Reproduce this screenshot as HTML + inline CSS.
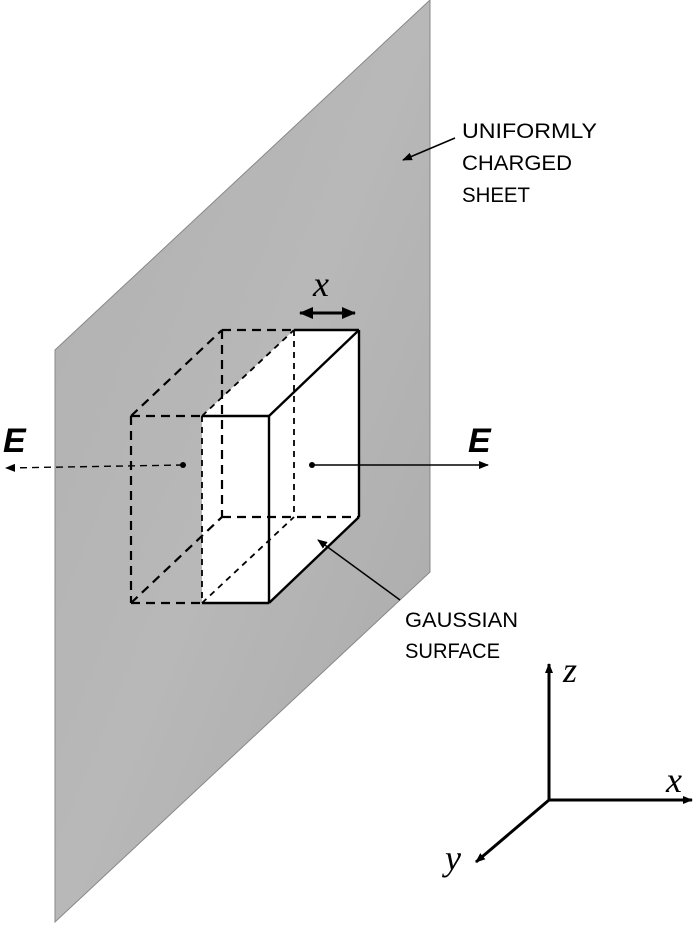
<!DOCTYPE html>
<html><head><meta charset="utf-8"><style>body{margin:0;background:#fff}svg{display:block}</style></head>
<body>
<svg width="700" height="928" viewBox="0 0 700 928" xmlns="http://www.w3.org/2000/svg">
<defs>
<marker id="ah" markerWidth="10" markerHeight="8" refX="9" refY="4" orient="auto" markerUnits="userSpaceOnUse"><path d="M0,0 L10,4 L0,8 z" fill="#000"/></marker>
<marker id="ah2" markerWidth="14" markerHeight="12" refX="13" refY="6" orient="auto" markerUnits="userSpaceOnUse"><path d="M0,0 L14,6 L0,12 z" fill="#000"/></marker>
<marker id="ahs" markerWidth="14" markerHeight="12" refX="1" refY="6" orient="auto" markerUnits="userSpaceOnUse"><path d="M14,0 L0,6 L14,12 z" fill="#000"/></marker>
<linearGradient id="g" x1="0" y1="0" x2="1" y2="1"><stop offset="0" stop-color="#b0b0b0"/><stop offset="0.5" stop-color="#b8b8b8"/><stop offset="1" stop-color="#a9a9a9"/></linearGradient>
</defs>
<polygon points="55,350 430,0 430,572 55,922" fill="url(#g)" stroke="#888" stroke-width="1"/>
<polygon points="202,416 294,330 359,330 359,517 269,603 202,603" fill="#fff"/>
<g stroke="#000" fill="none">
<g stroke-width="2.2" stroke-dasharray="9,6">
<line x1="222" y1="330" x2="294" y2="330"/>
<line x1="222" y1="330" x2="222" y2="517"/>
<line x1="222" y1="517" x2="359" y2="517"/>
<line x1="131" y1="416" x2="202" y2="416"/>
<line x1="131" y1="416" x2="131" y2="603"/>
<line x1="131" y1="603" x2="202" y2="603"/>
<line x1="131" y1="416" x2="222" y2="330"/>
<line x1="131" y1="603" x2="222" y2="517"/>
</g>
<g stroke-width="1.8" stroke-dasharray="6,5">
<line x1="294" y1="330" x2="294" y2="517"/>
<line x1="202" y1="416" x2="294" y2="330"/>
<line x1="202" y1="603" x2="294" y2="517"/>
<line x1="202" y1="416" x2="202" y2="603"/>
</g>
<g stroke-width="2.4">
<line x1="294" y1="330" x2="359" y2="330"/>
<line x1="359" y1="330" x2="359" y2="517"/>
<line x1="202" y1="416" x2="269" y2="416"/>
<line x1="269" y1="416" x2="269" y2="603"/>
<line x1="202" y1="603" x2="269" y2="603"/>
<line x1="269" y1="416" x2="359" y2="330"/>
<line x1="269" y1="603" x2="359" y2="517"/>
</g>
<line x1="183" y1="465" x2="6" y2="468" stroke-width="1.4" stroke-dasharray="7,5" marker-end="url(#ah)"/>
<line x1="312" y1="465" x2="488" y2="465" stroke-width="1.4" marker-end="url(#ah)"/>
<line x1="300" y1="313" x2="355" y2="313" stroke-width="3" marker-end="url(#ah2)" marker-start="url(#ahs)"/>
<line x1="455" y1="138" x2="403" y2="160" stroke-width="1.5" marker-end="url(#ah)"/>
<line x1="400" y1="600" x2="318" y2="540" stroke-width="1.5" marker-end="url(#ah)"/>
<g stroke-width="3">
<line x1="549" y1="800" x2="549" y2="664" marker-end="url(#ah)"/>
<line x1="549" y1="800" x2="692" y2="800" marker-end="url(#ah)"/>
<line x1="549" y1="800" x2="476" y2="862" marker-end="url(#ah)"/>
</g>
</g>
<circle cx="183" cy="465" r="3" fill="#000"/>
<circle cx="312" cy="465" r="3" fill="#000"/>
<g font-family="Liberation Sans, sans-serif" font-size="21" fill="#000" lengthAdjust="spacingAndGlyphs">
<text x="462" y="138" textLength="135" lengthAdjust="spacingAndGlyphs">UNIFORMLY</text>
<text x="462" y="170" textLength="110" lengthAdjust="spacingAndGlyphs">CHARGED</text>
<text x="462" y="202" textLength="68" lengthAdjust="spacingAndGlyphs">SHEET</text>
<text x="405" y="627" textLength="113" lengthAdjust="spacingAndGlyphs">GAUSSIAN</text>
<text x="405" y="658" textLength="95" lengthAdjust="spacingAndGlyphs">SURFACE</text>
</g>
<g font-family="Liberation Sans, sans-serif" font-size="34" font-style="italic" font-weight="bold" fill="#000">
<text x="3" y="452">E</text>
<text x="468" y="452">E</text>
</g>
<g font-family="Liberation Serif, serif" font-size="36" font-style="italic" fill="#000">
<text x="313" y="296">x</text>
<text x="563" y="682">z</text>
<text x="666" y="792">x</text>
<text x="445" y="870">y</text>
</g>
</svg>
</body></html>
